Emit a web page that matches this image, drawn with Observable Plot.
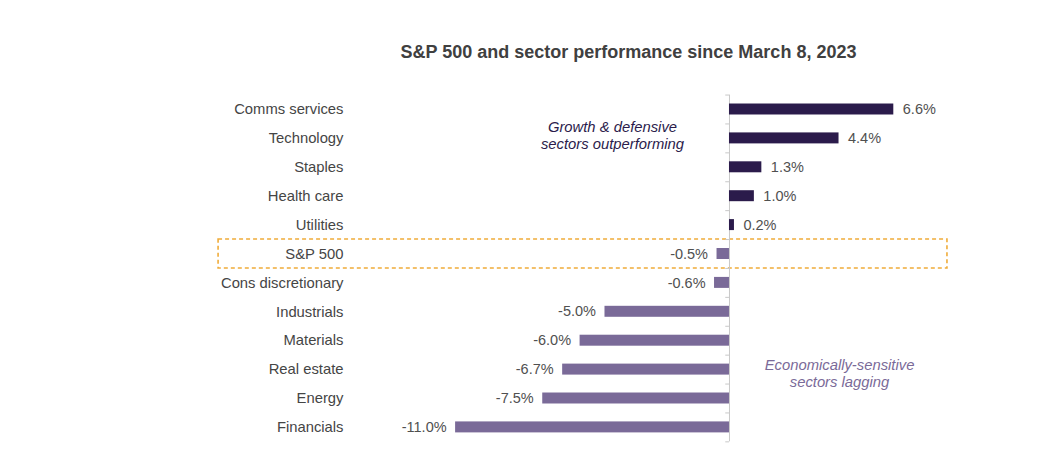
<!DOCTYPE html>
<html>
<head>
<meta charset="utf-8">
<script src="https://cdn.jsdelivr.net/npm/d3@7"></script>
<script src="https://cdn.jsdelivr.net/npm/@observablehq/plot@0.6"></script>
<style>
  html, body { margin: 0; padding: 0; background: #fff; }
  body { width: 1050px; height: 476px; overflow: hidden; font-family: "Liberation Sans", Arial, sans-serif; }
  #title { height: 80px; box-sizing: border-box; padding-top: 41px; margin-left: 207px; width: 843px;
           text-align: center; font-size: 18px; line-height: 22px; font-weight: bold; color: #404040; }
  #chart svg { display: block; }
</style>
</head>
<body>
<div id="title">S&amp;P 500 and sector performance since March 8, 2023</div>
<div id="chart"></div>
<script>
const categories = ["Comms services", "Technology", "Staples", "Health care", "Utilities", "S&P 500",
  "Cons discretionary", "Industrials", "Materials", "Real estate", "Energy", "Financials"];
const values = [6.6, 4.4, 1.3, 1.0, 0.2, -0.5, -0.6, -5.0, -6.0, -6.7, -7.5, -11.0];
const highlight = "S&P 500";
const noteUp = "Growth & defensive\nsectors outperforming";
const noteDown = "Economically-sensitive\nsectors lagging";

const data = categories.map((name, i) => ({name, value: values[i]}));
const pos = data.filter(d => d.value >= 0);
const neg = data.filter(d => d.value < 0);

const darkC = "#2b1b4b";
const lightC = "#7a6a98";
const font = "Liberation Sans, Arial, sans-serif";

const chart = Plot.plot({
  width: 1050,
  height: 396,
  marginTop: 14.55,
  marginBottom: 34.65,
  marginLeft: 455.1,
  marginRight: 156.7,
  style: {fontFamily: font, background: "#fff"},
  x: {domain: [-11, 6.6], axis: null},
  y: {domain: categories, axis: null, paddingInner: 0.62, paddingOuter: 0.31, round: false},
  marks: [
    // dashed highlight box around S&P 500 row
    Plot.barX([highlight], {y: d => d, x1: -20.52, x2: 8.755, fill: "none", stroke: "#f0ac3a",
      strokeWidth: 1.6, strokeDasharray: "4,3", insetTop: -9, insetBottom: -9}),
    // axis line and boundary ticks
    Plot.ruleX([0], {stroke: "#c8c8c8", strokeWidth: 1}),
    Plot.ruleY(categories, {y: d => d, x1: -0.15, x2: 0, dy: -14.45, stroke: "#c8c8c8"}),
    Plot.ruleY([categories[categories.length - 1]], {y: d => d, x1: -0.15, x2: 0, dy: 14.45, stroke: "#c8c8c8"}),
    // bars
    Plot.barX(pos, {y: "name", x: "value", fill: darkC}),
    Plot.barX(neg, {y: "name", x: "value", fill: lightC}),
    // category labels
    Plot.text(categories, {y: d => d, frameAnchor: "left", dx: -112.1, textAnchor: "end",
      fontSize: 14.8, fill: "#454545"}),
    // value labels
    Plot.text(pos, {y: "name", x: "value", text: d => d.value.toFixed(1) + "%", dx: 9, textAnchor: "start",
      fontSize: 14.5, fill: "#505050"}),
    Plot.text(neg, {y: "name", x: "value", text: d => d.value.toFixed(1) + "%", dx: -9, textAnchor: "end",
      fontSize: 14.5, fill: "#505050"}),
    // annotations
    Plot.text([noteUp], {text: d => d, x: -4.7, y: () => "Technology", dy: -3.4, fontSize: 14.8,
      fontStyle: "italic", fill: darkC, lineHeight: 1.15}),
    Plot.text([noteDown], {text: d => d, x: 4.42, y: () => "Real estate", dy: 3.5, fontSize: 14.8,
      fontStyle: "italic", fill: lightC, lineHeight: 1.15})
  ]
});
document.getElementById("chart").appendChild(chart);
</script>
</body>
</html>
